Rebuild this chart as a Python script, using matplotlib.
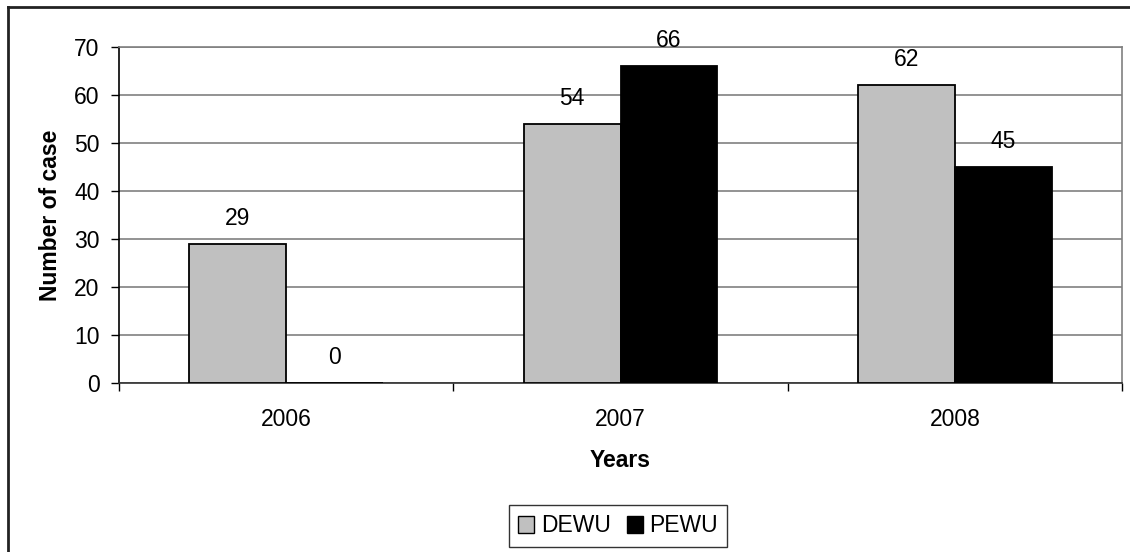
import matplotlib
matplotlib.use('Agg')
import matplotlib.pyplot as plt
import numpy as np
from matplotlib.patches import Patch
from matplotlib.lines import Line2D

plt.rcParams['font.family'] = ['Liberation Sans', 'DejaVu Sans']

# cases per year for the two units
years = ['2006', '2007', '2008']
dewu = [29, 54, 62]
pewu = [0, 66, 45]

gray = '#C0C0C0'
fs = 16.5
x = np.arange(len(years))
w = 0.29

fig = plt.figure(figsize=(11.3, 5.52), dpi=100)
ax = fig.add_axes([119/1130, 1-383/552, (1122-119)/1130, (383-47)/552])

b1 = ax.bar(x - w/2, dewu, w, color=gray, edgecolor='black', linewidth=1.3, zorder=3)
b2 = ax.bar(x + w/2, pewu, w, color='black', edgecolor='black', linewidth=1.3, zorder=3)

# value labels above each bar
for bars, vals in ((b1, dewu), (b2, pewu)):
    for r, v in zip(bars, vals):
        ax.annotate(str(v), xy=(r.get_x() + r.get_width()/2, v),
                    xytext=(0, 13.7), textcoords='offset points',
                    ha='center', va='baseline', fontsize=fs)

ax.set_xlim(-0.5, 2.5)
ax.set_ylim(0, 70)
ax.set_yticks(range(0, 71, 10))
ax.yaxis.grid(True, color='#808080', linewidth=1.2, zorder=0)
ax.set_axisbelow(True)

ax.set_xticks(x)
ax.set_xticklabels(years)
ax.set_xticks([-0.5, 0.5, 1.5, 2.5], minor=True)
ax.tick_params(axis='x', which='major', length=0, pad=18, labelsize=fs)
ax.tick_params(axis='x', which='minor', length=6, width=1, color='black')
ax.tick_params(axis='y', length=6, width=1, labelsize=fs, pad=8)

ax.spines['left'].set_color('black')
ax.spines['bottom'].set_color('#303030')
ax.spines['top'].set_color('#808080')
ax.spines['right'].set_color('#808080')
for s in ax.spines.values():
    s.set_linewidth(1.2)

ax.set_ylabel('Number of case', fontsize=fs, fontweight='bold', labelpad=9)
ax.set_xlabel('Years', fontsize=fs, fontweight='bold', labelpad=13)

handles = [Patch(facecolor=gray, edgecolor='black', label='DEWU'),
           Patch(facecolor='black', edgecolor='black', label='PEWU')]
leg = fig.legend(handles=handles, loc='center', bbox_to_anchor=(618/1130, 1-526/552),
                 ncol=2, fontsize=fs, frameon=True, fancybox=False,
                 handlelength=0.7, handleheight=0.7, handletextpad=0.3,
                 columnspacing=0.7, borderpad=0.4, edgecolor='black')
leg.get_frame().set_linewidth(1.0)

# chart border (left and top edges visible)
fig.add_artist(Line2D([8/1130, 8/1130], [0, 1-7/552], color='#222222', linewidth=2,
                      transform=fig.transFigure))
fig.add_artist(Line2D([8/1130, 1], [1-7/552, 1-7/552], color='#222222', linewidth=2,
                      transform=fig.transFigure))

fig.savefig('out.png', dpi=100)
